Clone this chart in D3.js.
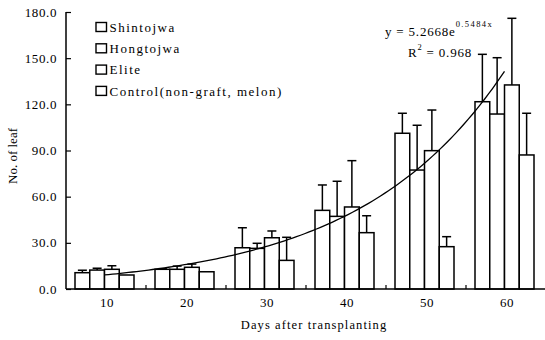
<!DOCTYPE html>
<html><head><meta charset="utf-8">
<script src="https://cdn.jsdelivr.net/npm/d3@7"></script>
<style>
body{margin:0;background:#fff;}
text{font-family:"Liberation Serif","Times New Roman",serif;fill:#000;}
</style></head>
<body><svg id="c" width="545" height="340"></svg>
<script>
const days = [10, 20, 30, 40, 50, 60];
const seriesNames = ["Shintojwa", "Hongtojwa", "Elite", "Control(non-graft, melon)"];
const shintojwa = [10.6, 12.8, 26.8, 51.1, 101.2, 121.7];
const hongtojwa = [12.3, 12.8, 26.4, 47.2, 77.3, 113.7];
const elite     = [12.8, 14.1, 33.3, 53.3, 89.9, 132.6];
const control   = [9.1, 11.2, 18.6, 36.6, 27.5, 87.1];
const shintojwaErr = [1.6, 0.4, 13.0, 16.5, 13.0, 30.8];
const hongtojwaErr = [1.2, 2.1, 3.3, 22.8, 29.1, 36.6];
const eliteErr     = [2.3, 2.1, 4.4, 30.1, 26.4, 43.3];
const controlErr   = [0, 0, 15.0, 11.0, 6.5, 27.1];
const yTicks = [0, 30, 60, 90, 120, 150, 180];
const trendA = 5.2668, trendB = 0.5484; // y = 5.2668e^(0.5484x), x = 1..6

const values = [shintojwa, hongtojwa, elite, control];
const errs = [shintojwaErr, hongtojwaErr, eliteErr, controlErr];

const svg = d3.select("#c");
const x0 = d3.scaleBand().domain(days).range([66, 546]);
const groupW = 59;
const x1 = d3.scaleBand().domain(d3.range(4)).range([0, groupW]);
const gStart = d => x0(d) + (x0.bandwidth() - groupW) / 2 - 1.5;
const y = d3.scaleLinear().domain([0, 180]).range([289, 12]);

const bars = [];
days.forEach((d, i) => values.forEach((v, s) => bars.push({d, i, s, v: v[i], e: errs[s][i]})));

const eg = svg.append("g").attr("stroke", "#000").attr("stroke-width", 1.5);
bars.filter(b => b.e > 0).forEach(b => {
  const cx = gStart(b.d) + x1(b.s) + x1.bandwidth() / 2;
  eg.append("line").attr("x1", cx).attr("x2", cx).attr("y1", y(b.v)).attr("y2", y(b.v + b.e));
  eg.append("line").attr("x1", cx - 4.5).attr("x2", cx + 4.5).attr("y1", y(b.v + b.e)).attr("y2", y(b.v + b.e));
});

svg.append("g").selectAll("rect").data(bars).join("rect")
  .attr("x", b => gStart(b.d) + x1(b.s))
  .attr("y", b => y(b.v))
  .attr("width", x1.bandwidth())
  .attr("height", b => y(0) - y(b.v))
  .attr("fill", "#fff").attr("stroke", "#000").attr("stroke-width", 1.5);

const xi = d3.scaleLinear().domain([1, 6]).range([gStart(days[0]) + groupW / 2, gStart(days[5]) + groupW / 2]);
const tpts = d3.range(1, 6.001, 0.05).map(t => [t, trendA * Math.exp(trendB * t)]);
svg.append("path").datum(tpts)
  .attr("d", d3.line().x(p => xi(p[0])).y(p => y(p[1])))
  .attr("fill", "none").attr("stroke", "#000").attr("stroke-width", 1.3);

const yAxis = svg.append("g").attr("transform", "translate(66,0)")
  .call(d3.axisRight(y).tickValues(yTicks).tickSize(5).tickFormat(""));
yAxis.select(".domain").attr("d", `M0,${y(180)}V${y(0)}`).attr("stroke-width", 1.5);
yAxis.selectAll(".tick line").attr("stroke-width", 1.2);
svg.append("g").selectAll("text").data(yTicks).join("text")
  .attr("x", 57).attr("y", d => y(d) + 4.5).attr("text-anchor", "end")
  .attr("font-size", 13).attr("letter-spacing", 0.6).text(d => d.toFixed(1));

svg.append("line").attr("x1", 66).attr("x2", 545).attr("y1", y(0)).attr("y2", y(0))
  .attr("stroke", "#000").attr("stroke-width", 1.5);
svg.append("g").selectAll("line").data(days.slice(1)).join("line")
  .attr("x1", d => x0(d)).attr("x2", d => x0(d)).attr("y1", y(0)).attr("y2", y(0) - 4)
  .attr("stroke", "#000").attr("stroke-width", 1.2);
svg.append("g").selectAll("text").data(days).join("text")
  .attr("x", d => x0(d) + x0.bandwidth() / 2 + 1).attr("y", 307).attr("text-anchor", "middle")
  .attr("font-size", 13).attr("letter-spacing", 0.6).text(d => d);

svg.append("text").attr("x", 314).attr("y", 329).attr("text-anchor", "middle")
  .attr("font-size", 12.5).attr("letter-spacing", 1.1).text("Days after transplanting");
svg.append("text").attr("transform", "translate(17,156) rotate(-90)").attr("text-anchor", "middle")
  .attr("font-size", 13).text("No. of leaf");

const lg = svg.append("g");
seriesNames.forEach((n, i) => {
  const ly = 27 + i * 21.3;
  lg.append("rect").attr("x", 96).attr("y", ly - 4.5).attr("width", 10.5).attr("height", 9)
    .attr("fill", "#fff").attr("stroke", "#000").attr("stroke-width", 1.4);
  lg.append("text").attr("x", 109.5).attr("y", ly + 4.8).attr("font-size", 13)
    .attr("letter-spacing", 1.5).text(n);
});

const eq = svg.append("text").attr("x", 385).attr("y", 36).attr("font-size", 13).attr("letter-spacing", 0.8);
eq.append("tspan").text("y = 5.2668e");
eq.append("tspan").attr("font-size", 8.5).attr("dy", -9).attr("letter-spacing", 1.4).text("0.5484x");
const r2 = svg.append("text").attr("x", 408).attr("y", 56.5).attr("font-size", 13).attr("letter-spacing", 0.8);
r2.append("tspan").text("R");
r2.append("tspan").attr("font-size", 8.5).attr("dy", -7).text("2");
r2.append("tspan").attr("dy", 7).text(" = 0.968");
</script></body></html>
